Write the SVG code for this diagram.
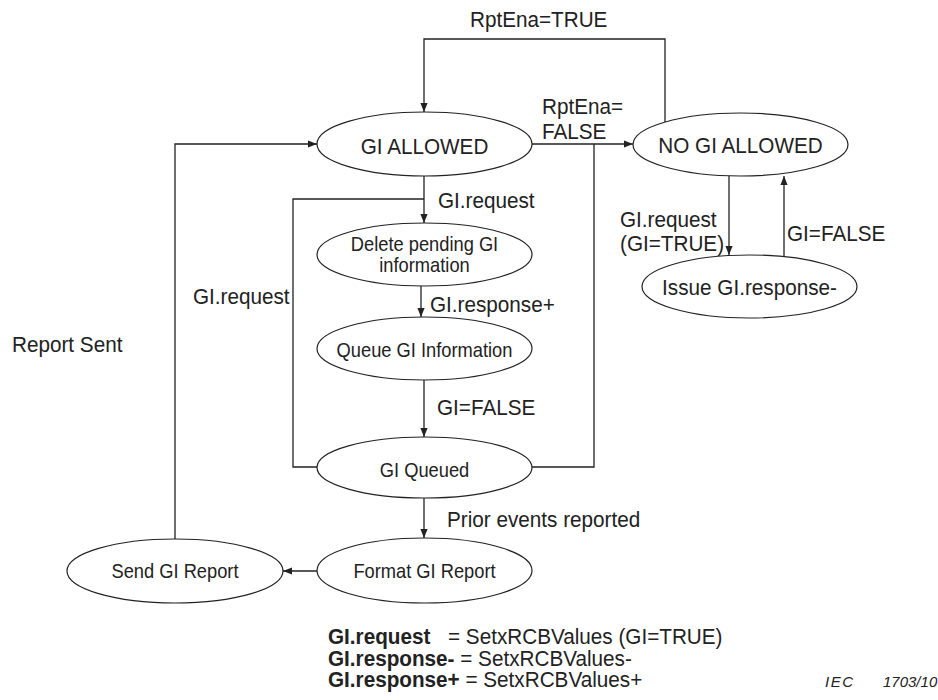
<svg xmlns="http://www.w3.org/2000/svg" width="938" height="700" viewBox="0 0 938 700">
  <style>
    .state { fill: #ffffff; stroke: #222222; stroke-width: 1.2; }
    .conn { fill: none; stroke: #222222; stroke-width: 1.3; }
    text { font-family: "Liberation Sans", Arial, sans-serif; fill: #222222; }
    .big { font-size: 20.7px; }
    .small { font-size: 18.3px; }
    .mid { text-anchor: middle; }
    .bold { font-weight: bold; }
    .ref { font-size: 15px; font-style: italic; }
  </style>
  <defs>
    <marker id="arrow" viewBox="0 0 10 8" refX="10" refY="4" markerWidth="9" markerHeight="7.2" markerUnits="userSpaceOnUse" orient="auto">
      <path d="M0,0 L10,4 L0,8 z" fill="#222222"/>
    </marker>
  </defs>

  <!-- transitions -->
  <g id="connectors">
    <path class="conn" d="M665,122 V39 H424 V112" marker-end="url(#arrow)"/>
    <path class="conn" d="M532,144 H633" marker-end="url(#arrow)"/>
    <path class="conn" d="M532,467 H594 V144"/>
    <path class="conn" d="M424,176 V223" marker-end="url(#arrow)"/>
    <path class="conn" d="M317,467 H293 V199 H424"/>
    <path class="conn" d="M421,286 V317" marker-end="url(#arrow)"/>
    <path class="conn" d="M424,380 V437" marker-end="url(#arrow)"/>
    <path class="conn" d="M424,498 V538" marker-end="url(#arrow)"/>
    <path class="conn" d="M317,571 H283" marker-end="url(#arrow)"/>
    <path class="conn" d="M175,539 V144 H317" marker-end="url(#arrow)"/>
    <path class="conn" d="M729,176 V255" marker-end="url(#arrow)"/>
    <path class="conn" d="M784,257 V176" marker-end="url(#arrow)"/>
  </g>

  <!-- transition labels -->
  <g id="labels">
    <text class="big" transform="translate(470 27) scale(1 1.08)">RptEna=TRUE</text>
    <text class="big" transform="translate(542 114) scale(1 1.05)">RptEna=</text>
    <text class="big" transform="translate(542 139) scale(1 1.05)">FALSE</text>
    <text class="big" transform="translate(438 208) scale(1 1.08)">GI.request</text>
    <text class="big" transform="translate(430 312) scale(1 1.08)">GI.response+</text>
    <text class="big" transform="translate(437 415) scale(1 1.08)">GI=FALSE</text>
    <text class="big" transform="translate(447 527) scale(1 1.08)">Prior events reported</text>
    <text class="big" transform="translate(193 304) scale(1 1.08)">GI.request</text>
    <text class="big" transform="translate(12 352) scale(1 1.08)">Report Sent</text>
    <text class="big" transform="translate(620 227) scale(1 1.05)">GI.request</text>
    <text class="big" transform="translate(620 251) scale(1 1.05)">(GI=TRUE)</text>
    <text class="big" transform="translate(787 241) scale(1 1.08)">GI=FALSE</text>
  </g>

  <!-- states -->
  <g id="gi-allowed">
    <ellipse class="state" cx="424.5" cy="144" rx="107.5" ry="32"/>
    <text class="big mid" transform="translate(424.5 154) scale(1 1.1)">GI ALLOWED</text>
  </g>
  <g id="no-gi-allowed">
    <ellipse class="state" cx="740.5" cy="144.5" rx="107.5" ry="31.5"/>
    <text class="big mid" transform="translate(740.5 153) scale(1 1.1)">NO GI ALLOWED</text>
  </g>
  <g id="issue-response">
    <ellipse class="state" cx="749.5" cy="286.5" rx="107.5" ry="31.5"/>
    <text class="big mid" transform="translate(749.5 295) scale(1 1.1)">Issue GI.response-</text>
  </g>
  <g id="delete-pending">
    <ellipse class="state" cx="424.5" cy="254.5" rx="107.5" ry="31.5"/>
    <text class="small mid" transform="translate(424.5 251) scale(1 1.1)">Delete pending GI</text>
    <text class="small mid" transform="translate(424.5 272) scale(1 1.1)">information</text>
  </g>
  <g id="queue-info">
    <ellipse class="state" cx="424.5" cy="348.5" rx="107.5" ry="31.5"/>
    <text class="small mid" transform="translate(424.5 357) scale(1 1.1)">Queue GI Information</text>
  </g>
  <g id="gi-queued">
    <ellipse class="state" cx="424.5" cy="467.5" rx="107.5" ry="30.5"/>
    <text class="small mid" transform="translate(424.5 477) scale(1 1.1)">GI Queued</text>
  </g>
  <g id="format-report">
    <ellipse class="state" cx="424.5" cy="570.5" rx="107.5" ry="32.5"/>
    <text class="small mid" transform="translate(424.5 578) scale(1 1.1)">Format GI Report</text>
  </g>
  <g id="send-report">
    <ellipse class="state" cx="175" cy="571" rx="108" ry="32"/>
    <text class="small mid" transform="translate(175 578) scale(1 1.1)">Send GI Report</text>
  </g>

  <!-- legend -->
  <g id="legend">
    <text class="big" transform="translate(328 644) scale(1 1.05)"><tspan class="bold">GI.request</tspan><tspan x="120">= SetxRCBValues (GI=TRUE)</tspan></text>
    <text class="big" transform="translate(328 665.5) scale(1 1.05)"><tspan class="bold">GI.response-</tspan> = SetxRCBValues-</text>
    <text class="big" transform="translate(328 687) scale(1 1.05)"><tspan class="bold">GI.response+</tspan> = SetxRCBValues+</text>
    <text class="ref" x="825" y="687" letter-spacing="1.5">IEC</text>
    <text class="ref" x="883" y="687">1703/10</text>
  </g>
</svg>
